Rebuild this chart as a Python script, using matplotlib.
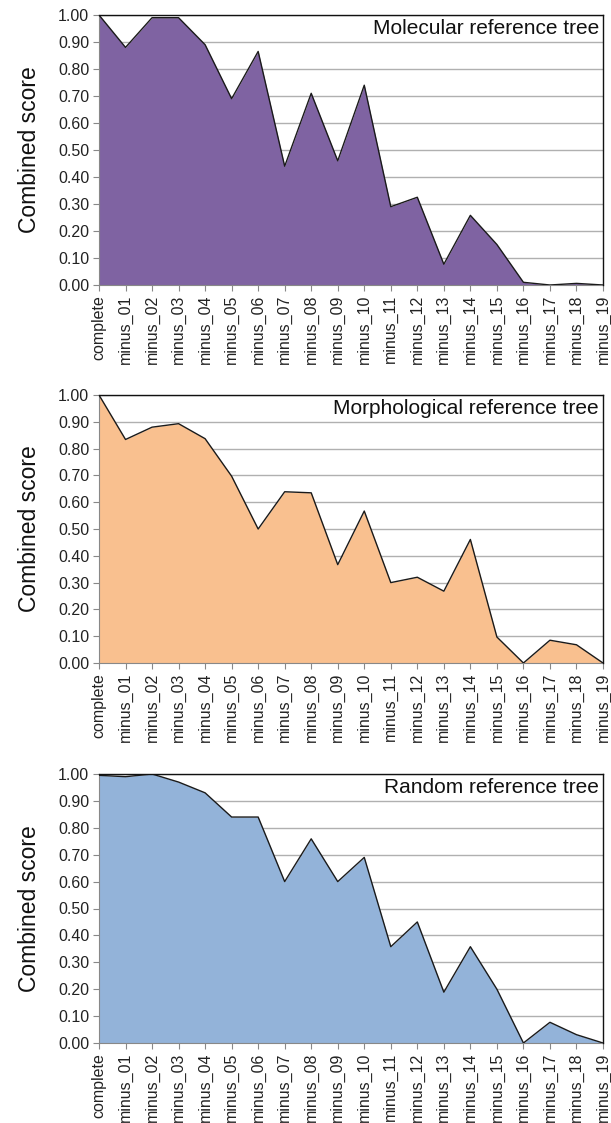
import matplotlib
matplotlib.use("Agg")
import matplotlib.pyplot as plt
from matplotlib.ticker import FormatStrFormatter

plt.rcParams['font.family'] = ['Liberation Sans', 'DejaVu Sans']

categories = ["complete"] + ["minus_%02d" % i for i in range(1, 20)]

molecular = [1.00, 0.88, 0.99, 0.99, 0.89, 0.69, 0.865, 0.44, 0.71, 0.46, 0.74,
             0.29, 0.325, 0.077, 0.258, 0.15, 0.01, 0.0, 0.006, 0.0]
morphological = [1.00, 0.834, 0.88, 0.893, 0.837, 0.697, 0.50, 0.639, 0.635, 0.367, 0.567,
                 0.30, 0.32, 0.268, 0.461, 0.097, 0.0, 0.085, 0.068, 0.0]
random_tree = [0.995, 0.99, 1.00, 0.97, 0.93, 0.84, 0.84, 0.60, 0.759, 0.60, 0.69,
               0.358, 0.45, 0.189, 0.358, 0.20, 0.0, 0.077, 0.031, 0.0]

titles = ["Molecular reference tree", "Morphological reference tree", "Random reference tree"]
series = [molecular, morphological, random_tree]
colors = ["#7f63a2", "#f9c08f", "#93b3d9"]
yticks = [i / 10 for i in range(11)]

W, H = 611, 1123
fig = plt.figure(figsize=(W / 100, H / 100), dpi=100)

panels = [(15, 285), (395, 663), (774, 1043)]
left, right = 99, 603

for (top, bot), vals, title, col in zip(panels, series, titles, colors):
    ax = fig.add_axes([left / W, 1 - bot / H, (right - left) / W, (bot - top) / H])
    x = list(range(len(categories)))
    ax.fill_between(x, vals, 0, color=col, zorder=2, linewidth=0)
    ax.plot(x, vals, color="#1a1a1a", linewidth=1.0, zorder=3)
    ax.set_xlim(0, len(categories) - 1)
    ax.set_ylim(0, 1.0)
    ax.set_yticks(yticks)
    ax.yaxis.set_major_formatter(FormatStrFormatter('%.2f'))
    ax.set_xticks(x)
    ax.set_xticklabels(categories, rotation=90, fontsize=11.5, color="#222222")
    ax.tick_params(axis='y', labelsize=11.5, colors="#888888", labelcolor="#222222",
                   length=4, width=0.8, direction='out', pad=3)
    ax.tick_params(axis='x', colors="#888888", labelcolor="#222222",
                   length=4, width=0.8, direction='out', pad=3)
    ax.grid(axis='y', color="#b0b0b0", linewidth=1.0, zorder=1)
    ax.set_axisbelow(True)
    for s in ['top', 'right']:
        ax.spines[s].set_color("#111111")
        ax.spines[s].set_linewidth(1.0)
        ax.spines[s].set_zorder(5)
    for s in ['left', 'bottom']:
        ax.spines[s].set_color("#888888")
        ax.spines[s].set_linewidth(0.8)
    ax.set_ylabel("Combined score", fontsize=16.5, color="#111111", labelpad=12)
    ax.text(0.992, 0.985, title, transform=ax.transAxes, ha='right', va='top',
            fontsize=15, color="#111111", zorder=6)

fig.savefig("out.png", dpi=100, facecolor="white")
